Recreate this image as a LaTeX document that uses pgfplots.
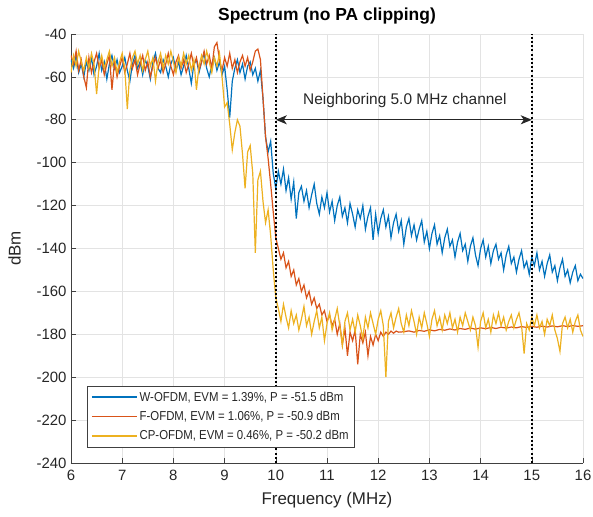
\documentclass[border=0pt]{standalone}
\usepackage{fontspec}
\setmainfont{Liberation Sans}
\newfontfamily\legfont{Liberation Sans}[FakeStretch=0.88]
\usepackage{pgfplots}
\pgfplotsset{compat=1.18}
\usetikzlibrary{arrows.meta}
\definecolor{mblue}{HTML}{0072BD}
\definecolor{morange}{HTML}{D95319}
\definecolor{myellow}{HTML}{EDB120}
\definecolor{axgray}{HTML}{404040}
\definecolor{txtgray}{HTML}{262626}
\definecolor{gridgray}{HTML}{E3E3E3}

\begin{document}
\begin{tikzpicture}
\useasboundingbox (-71bp,-54bp) rectangle (522bp,463bp);
\begin{axis}[
  width=512bp, height=429bp, scale only axis,
  xmin=6, xmax=16, ymin=-240, ymax=-40,
  xtick={6,7,...,16}, ytick={-240,-220,...,-40},
  axis x line*=bottom, axis y line*=left,
  axis line style={axgray, line width=0.8bp},
  tick align=inside, major tick length=5bp,
  tick style={axgray, line width=0.6bp},
  grid=major, grid style={gridgray, line width=0.6bp},
  /pgf/number format/assume math mode=true,
  ticklabel style={font=\fontsize{15}{17}\selectfont, text=txtgray},
  xticklabel style={yshift=-4bp},
  yticklabel style={xshift=-1bp},
  label style={font=\fontsize{17}{19}\selectfont, text=txtgray},
  xlabel style={yshift=-4bp},
  ylabel style={yshift=9bp},
  title style={font=\fontsize{17.5}{19}\selectfont\bfseries, text=black},
  title={Spectrum (no PA clipping)},
  xlabel={Frequency (MHz)}, ylabel={dBm},
  legend style={at={(0.031,0.037)}, anchor=south west, draw=axgray, line width=0.6bp,
    fill=white, font=\legfont\fontsize{13}{14}\selectfont, text=txtgray,
    row sep=4.5bp, inner xsep=4bp, inner ysep=3.5bp},
  legend cell align=left,
  legend image code/.code={\draw[#1, line width=1.5bp] (0bp,0bp) -- (45bp,0bp);},
  every axis plot/.append style={line width=1.2bp},
]
\addplot[mblue] coordinates {
(6.00,-52) (6.05,-56) (6.10,-50) (6.15,-58) (6.20,-54) (6.25,-60) (6.30,-53) (6.35,-57) (6.40,-51) (6.45,-59)
(6.50,-55) (6.55,-49) (6.60,-57) (6.65,-53) (6.70,-61) (6.75,-54) (6.80,-50) (6.85,-56) (6.90,-52) (6.95,-58)
(7.00,-55) (7.05,-51) (7.10,-57) (7.15,-62) (7.20,-54) (7.25,-50) (7.30,-56) (7.35,-53) (7.40,-59) (7.45,-52)
(7.50,-55) (7.55,-61) (7.60,-53) (7.65,-49) (7.70,-56) (7.75,-58) (7.80,-52) (7.85,-55) (7.90,-60) (7.95,-54)
(8.00,-51) (8.05,-57) (8.10,-53) (8.15,-59) (8.20,-55) (8.25,-50) (8.30,-56) (8.35,-63) (8.40,-54) (8.45,-52)
(8.50,-58) (8.55,-53) (8.60,-49) (8.65,-56) (8.70,-60) (8.75,-54) (8.80,-51) (8.85,-57) (8.90,-53) (8.95,-59)
(9.00,-55) (9.05,-66) (9.10,-79) (9.15,-62) (9.20,-56) (9.25,-52) (9.30,-58) (9.35,-54) (9.40,-61) (9.45,-55)
(9.50,-53) (9.55,-59) (9.60,-56) (9.65,-62) (9.70,-57) (9.75,-70) (9.80,-88) (9.85,-95) (9.90,-90) (9.95,-105)
(10.00,-112) (10.05,-104) (10.10,-110) (10.15,-103) (10.20,-113) (10.25,-107) (10.30,-117) (10.35,-109) (10.40,-126) (10.45,-114)
(10.50,-111) (10.55,-118) (10.60,-113) (10.65,-121) (10.70,-115) (10.75,-110) (10.80,-119) (10.85,-124) (10.90,-116) (10.95,-121)
(11.00,-114) (11.05,-123) (11.10,-118) (11.15,-127) (11.20,-120) (11.25,-116) (11.30,-125) (11.35,-121) (11.40,-128) (11.45,-119)
(11.50,-124) (11.55,-130) (11.60,-122) (11.65,-126) (11.70,-120) (11.75,-131) (11.80,-125) (11.85,-121) (11.90,-136) (11.95,-124)
(12.00,-133) (12.05,-126) (12.10,-122) (12.15,-130) (12.20,-125) (12.25,-135) (12.30,-128) (12.35,-124) (12.40,-132) (12.45,-127)
(12.50,-138) (12.55,-130) (12.60,-126) (12.65,-134) (12.70,-129) (12.75,-136) (12.80,-131) (12.85,-127) (12.90,-137) (12.95,-132)
(13.00,-140) (13.05,-133) (13.10,-129) (13.15,-138) (13.20,-134) (13.25,-142) (13.30,-135) (13.35,-131) (13.40,-139) (13.45,-136)
(13.50,-144) (13.55,-137) (13.60,-133) (13.65,-141) (13.70,-138) (13.75,-146) (13.80,-139) (13.85,-135) (13.90,-143) (13.95,-148)
(14.00,-140) (14.05,-136) (14.10,-144) (14.15,-139) (14.20,-147) (14.25,-141) (14.30,-138) (14.35,-145) (14.40,-142) (14.45,-150)
(14.50,-143) (14.55,-139) (14.60,-147) (14.65,-144) (14.70,-151) (14.75,-145) (14.80,-141) (14.85,-149) (14.90,-146) (14.95,-152)
(15.00,-144) (15.05,-148) (15.10,-142) (15.15,-150) (15.20,-146) (15.25,-153) (15.30,-147) (15.35,-143) (15.40,-151) (15.45,-148)
(15.50,-155) (15.55,-149) (15.60,-145) (15.65,-153) (15.70,-150) (15.75,-156) (15.80,-151) (15.85,-148) (15.90,-155) (15.95,-152)
(16.00,-154)
};
\addlegendentry{W-OFDM, EVM = 1.39\%, P = -51.5 dBm}
\addplot[morange] coordinates {
(6.00,-50) (6.05,-54) (6.10,-48) (6.15,-57) (6.20,-52) (6.25,-60) (6.30,-65) (6.35,-51) (6.40,-58) (6.45,-53)
(6.50,-49) (6.55,-56) (6.60,-52) (6.65,-59) (6.70,-54) (6.75,-50) (6.80,-66) (6.85,-53) (6.90,-60) (6.95,-55)
(7.00,-51) (7.05,-58) (7.10,-54) (7.15,-49) (7.20,-56) (7.25,-52) (7.30,-59) (7.35,-54) (7.40,-50) (7.45,-57)
(7.50,-53) (7.55,-60) (7.60,-55) (7.65,-51) (7.70,-56) (7.75,-52) (7.80,-58) (7.85,-54) (7.90,-49) (7.95,-55)
(8.00,-59) (8.05,-53) (8.10,-50) (8.15,-56) (8.20,-52) (8.25,-58) (8.30,-54) (8.35,-49) (8.40,-55) (8.45,-51)
(8.50,-57) (8.55,-53) (8.60,-48) (8.65,-54) (8.70,-50) (8.75,-56) (8.80,-46) (8.85,-44) (8.90,-52) (8.95,-57)
(9.00,-51) (9.05,-55) (9.10,-49) (9.15,-56) (9.20,-52) (9.25,-58) (9.30,-53) (9.35,-50) (9.40,-55) (9.45,-51)
(9.50,-57) (9.55,-53) (9.60,-48) (9.65,-47) (9.70,-52) (9.75,-70) (9.80,-88) (9.85,-98) (9.90,-110) (9.95,-123)
(10.00,-135) (10.05,-140) (10.10,-145) (10.15,-142) (10.20,-149) (10.25,-146) (10.30,-153) (10.35,-150) (10.40,-157) (10.45,-154)
(10.50,-160) (10.55,-157) (10.60,-163) (10.65,-160) (10.70,-166) (10.75,-163) (10.80,-168) (10.85,-166) (10.90,-171) (10.95,-169)
(11.00,-174) (11.05,-171) (11.10,-176) (11.15,-173) (11.20,-180) (11.25,-175) (11.30,-185) (11.35,-177) (11.40,-190) (11.45,-179)
(11.50,-183) (11.55,-178) (11.60,-194) (11.65,-180) (11.70,-184) (11.75,-179) (11.80,-190) (11.85,-181) (11.90,-185) (11.95,-180)
(12.00,-183) (12.05,-179) (12.10,-181) (12.15,-179) (12.20,-180) (12.25,-178.5) (12.30,-179.5) (12.35,-178.5) (12.40,-179)
(12.5,-178.8) (12.6,-178.4) (12.7,-179.0) (12.8,-178.2) (12.9,-178.6) (13.0,-177.9) (13.1,-178.4) (13.2,-177.7) (13.3,-178.1) (13.4,-177.5)
(13.5,-178.0) (13.6,-177.3) (13.7,-177.7) (13.8,-177.1) (13.9,-177.6) (14.0,-177.0) (14.1,-177.4) (14.2,-176.8) (14.3,-177.3) (14.4,-176.7)
(14.5,-177.1) (14.6,-176.6) (14.7,-177.0) (14.8,-176.4) (14.9,-176.8) (15.0,-176.3) (15.1,-176.7) (15.2,-176.2) (15.3,-176.6) (15.4,-176.1)
(15.5,-176.5) (15.6,-176.0) (15.7,-176.4) (15.8,-175.9) (15.9,-176.3) (16.0,-176.0)
};
\addlegendentry{F-OFDM, EVM = 1.06\%, P = -50.9 dBm}
\addplot[myellow] coordinates {
(6.00,-58) (6.05,-50) (6.10,-55) (6.15,-48) (6.20,-53) (6.25,-57) (6.30,-51) (6.35,-56) (6.40,-49) (6.45,-54)
(6.50,-68) (6.55,-55) (6.60,-50) (6.65,-56) (6.70,-52) (6.75,-48) (6.80,-55) (6.85,-51) (6.90,-58) (6.95,-53)
(7.00,-49) (7.05,-56) (7.10,-75) (7.15,-57) (7.20,-51) (7.25,-48) (7.30,-54) (7.35,-50) (7.40,-57) (7.45,-52)
(7.50,-48) (7.55,-55) (7.60,-51) (7.65,-62) (7.70,-53) (7.75,-49) (7.80,-56) (7.85,-50) (7.90,-54) (7.95,-48)
(8.00,-53) (8.05,-58) (8.10,-51) (8.15,-55) (8.20,-49) (8.25,-54) (8.30,-50) (8.35,-57) (8.40,-52) (8.45,-66)
(8.50,-55) (8.55,-50) (8.60,-54) (8.65,-48) (8.70,-53) (8.75,-58) (8.80,-51) (8.85,-55) (8.90,-49) (8.95,-60)
(9.00,-74) (9.05,-72) (9.10,-82) (9.15,-94) (9.20,-86) (9.25,-80) (9.30,-83) (9.35,-96) (9.40,-112) (9.45,-95)
(9.50,-92) (9.55,-105) (9.60,-142) (9.65,-108) (9.70,-104) (9.75,-118) (9.80,-128) (9.85,-122) (9.90,-134) (9.95,-150)
(10.00,-163) (10.05,-168) (10.10,-174) (10.15,-166) (10.20,-172) (10.25,-177) (10.30,-169) (10.35,-175) (10.40,-171) (10.45,-178)
(10.50,-173) (10.55,-167) (10.60,-176) (10.65,-172) (10.70,-180) (10.75,-174) (10.80,-169) (10.85,-177) (10.90,-172) (10.95,-183)
(11.00,-175) (11.05,-170) (11.10,-178) (11.15,-173) (11.20,-168) (11.25,-176) (11.30,-185) (11.35,-174) (11.40,-170) (11.45,-178)
(11.50,-173) (11.55,-179) (11.60,-171) (11.65,-176) (11.70,-182) (11.75,-172) (11.80,-177) (11.85,-170) (11.90,-175) (11.95,-180)
(12.00,-173) (12.05,-169) (12.10,-176) (12.15,-200) (12.20,-174) (12.25,-170) (12.30,-177) (12.35,-172) (12.40,-168) (12.45,-175)
(12.50,-179) (12.55,-171) (12.60,-176) (12.65,-169) (12.70,-174) (12.75,-180) (12.80,-172) (12.85,-177) (12.90,-170) (12.95,-175)
(13.00,-181) (13.05,-173) (13.10,-169) (13.15,-176) (13.20,-172) (13.25,-178) (13.30,-171) (13.35,-175) (13.40,-170) (13.45,-177)
(13.50,-173) (13.55,-179) (13.60,-172) (13.65,-176) (13.70,-170) (13.75,-174) (13.80,-178) (13.85,-172) (13.90,-176) (13.95,-186)
(14.00,-174) (14.05,-170) (14.10,-177) (14.15,-173) (14.20,-179) (14.25,-171) (14.30,-175) (14.35,-170) (14.40,-176) (14.45,-172)
(14.50,-178) (14.55,-174) (14.60,-171) (14.65,-177) (14.70,-173) (14.75,-170) (14.80,-176) (14.85,-189) (14.90,-175) (14.95,-178)
(15.00,-172) (15.05,-176) (15.10,-171) (15.15,-177) (15.20,-174) (15.25,-180) (15.30,-173) (15.35,-176) (15.40,-171) (15.45,-178)
(15.50,-182) (15.55,-188) (15.60,-175) (15.65,-172) (15.70,-177) (15.75,-173) (15.80,-179) (15.85,-174) (15.90,-171) (15.95,-178)
(16.00,-181)
};
\addlegendentry{CP-OFDM, EVM = 0.46\%, P = -50.2 dBm}
\addplot[black, line width=2.5bp, dash pattern=on 2bp off 2.2bp, forget plot] coordinates {(10,-240) (10,-40)};
\addplot[black, line width=2.5bp, dash pattern=on 2bp off 2.2bp, forget plot] coordinates {(15,-240) (15,-40)};
\draw[txtgray, line width=1bp, {Stealth[length=11bp,width=9bp,inset=3bp]}-{Stealth[length=11bp,width=9bp,inset=3bp]}]
  (axis cs:10,-80) -- (axis cs:15,-80);
\node[text=txtgray, font=\fontsize{15.5}{18}\selectfont] at (axis cs:12.52,-70.8) {Neighboring 5.0 MHz channel};
\end{axis}
\end{tikzpicture}
\end{document}
